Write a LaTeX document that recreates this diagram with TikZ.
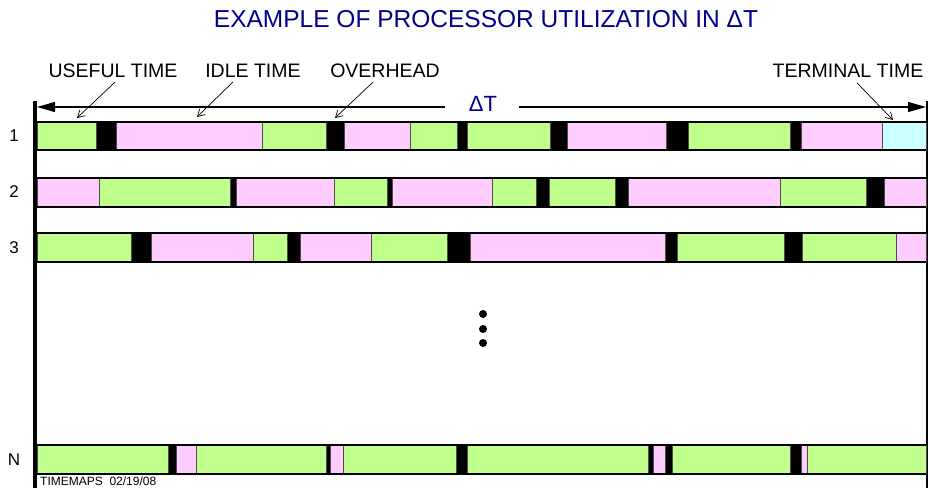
\documentclass[tikz,border=0pt]{standalone}
\usepackage{fontspec}
\setmainfont{Liberation Sans}
\usetikzlibrary{arrows.meta}
\definecolor{usegreen}{RGB}{192,255,140}
\definecolor{idlepink}{RGB}{255,204,255}
\definecolor{termcyan}{RGB}{204,255,255}
\definecolor{ovblack}{RGB}{0,0,0}
\definecolor{titleblue}{RGB}{0,0,140}
\newcommand{\procrow}[3]{%
  \foreach \a/\b/\c in {#3} {\filldraw[segline, fill=\c] (\a,#1) rectangle (\b,#2);}
  \draw[rowline] (37,#1) -- (926,#1) (37,#2) -- (926,#2);
}
\begin{document}
\begin{tikzpicture}[x=1pt,y=-1pt,
  segline/.style={draw=black!70, line width=0.8pt},
  rowline/.style={draw=black, line width=1.3pt},
  lbl/.style={inner sep=0pt, font=\fontsize{19.5}{22}\selectfont},
  rowlbl/.style={inner sep=0pt, font=\fontsize{17}{20}\selectfont},
  callout/.style={draw=black, line width=0.7pt, -{Straight Barb[length=7pt,width=8pt]}},
  spanarrow/.style={draw=black, line width=1.2pt, -{Triangle[length=18pt,width=10pt]}},
  dot/.style={fill=black}]
\useasboundingbox (0,0) rectangle (928,488);

% title
\node[inner sep=0pt, text=titleblue, font=\fontsize{24.5}{28}\selectfont] (title) at (486,19) {EXAMPLE OF PROCESSOR UTILIZATION IN ΔT};

% frame bars
\coordinate (lefttop) at (35,101);
\coordinate (leftbot) at (35,488);
\coordinate (righttop) at (927,101);
\coordinate (rightbot) at (927,488);
\draw[line width=4pt] (lefttop) -- (leftbot);
\draw[line width=2pt] (righttop) -- (rightbot);

% Delta T span
\coordinate (spanL) at (37,107);
\coordinate (spanR) at (926,107);
\node[inner sep=0pt, text=titleblue, font=\fontsize{22}{26}\selectfont] (dt) at (483,104) {ΔT};
\draw[spanarrow] ([xshift=-38pt]dt.center |- spanL) -- (spanL);
\draw[spanarrow] ([xshift=36pt]dt.center |- spanR) -- (spanR);

% callout labels
\node[lbl] (useful) at (113,71) {USEFUL TIME};
\node[lbl] (idle) at (253,71) {IDLE TIME};
\node[lbl] (over) at (385,71) {OVERHEAD};
\node[lbl] (term) at (848,71) {TERMINAL TIME};
\coordinate (usefulTip) at (77,118);
\coordinate (idleTip) at (197,117);
\coordinate (overTip) at (335,118);
\coordinate (termTip) at (893,120);
\draw[callout] ([xshift=2pt,yshift=-4pt]useful.south) -- (usefulTip);
\draw[callout] ([xshift=-20pt,yshift=-4pt]idle.south) -- (idleTip);
\draw[callout] ([xshift=-12pt,yshift=-4pt]over.south) -- (overTip);
\draw[callout] ([xshift=9pt,yshift=-5pt]term.south) -- (termTip);

% rows
\procrow{122}{150}{37/96/usegreen, 96/116/ovblack, 116/262/idlepink, 262/326/usegreen, 326/344/ovblack, 344/410/idlepink, 410/457/usegreen, 457/467/ovblack, 467/550/usegreen, 550/567/ovblack, 567/666/idlepink, 666/688/ovblack, 688/790/usegreen, 790/801/ovblack, 801/882/idlepink, 882/926/termcyan}
\procrow{178}{207}{37/99/idlepink, 99/230/usegreen, 230/236/ovblack, 236/334/idlepink, 334/387/usegreen, 387/392/ovblack, 392/492/idlepink, 492/536/usegreen, 536/549/ovblack, 549/615/usegreen, 615/628/ovblack, 628/780/idlepink, 780/866/usegreen, 866/884/ovblack, 884/926/idlepink}
\procrow{233}{262}{37/131/usegreen, 131/151/ovblack, 151/253/idlepink, 253/287/usegreen, 287/300/ovblack, 300/371/idlepink, 371/447/usegreen, 447/470/ovblack, 470/665/idlepink, 665/677/ovblack, 677/784/usegreen, 784/802/ovblack, 802/896/usegreen, 896/926/idlepink}
\procrow{445}{474}{37/168/usegreen, 168/176/ovblack, 176/196/idlepink, 196/326/usegreen, 326/330/ovblack, 330/343/idlepink, 343/456/usegreen, 456/467/ovblack, 467/648/usegreen, 648/653/ovblack, 653/665/idlepink, 665/672/ovblack, 672/790/usegreen, 790/801/ovblack, 801/807/idlepink, 807/926/usegreen}

% row labels
\node[rowlbl] (r1) at (14,136) {1};
\node[rowlbl] (r2) at (14,192) {2};
\node[rowlbl] (r3) at (14,248) {3};
\node[rowlbl] (rN) at (14,460) {N};

% vertical ellipsis
\fill[dot] (483,314) circle (4);
\fill[dot] (483,329) circle (4);
\fill[dot] (483,343) circle (4);

% footer
\node[inner sep=0pt, anchor=west, font=\fontsize{12}{14}\selectfont] (footer) at (40,481) {TIMEMAPS\ \ 02/19/08};
\end{tikzpicture}
\end{document}
